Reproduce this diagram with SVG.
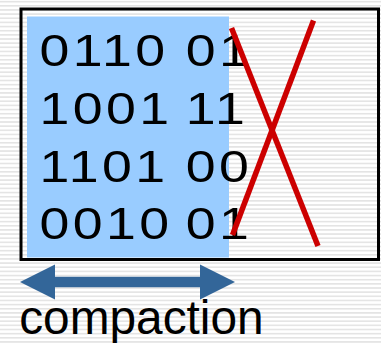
<svg xmlns="http://www.w3.org/2000/svg" width="381" height="343" viewBox="0 0 381 343">
  <defs>
    <!-- ruled background -->
    <pattern id="rules" x="0" y="0" width="381" height="4.15" patternUnits="userSpaceOnUse">
      <rect x="0" y="0" width="381" height="4.15" fill="#ffffff"/>
      <rect x="0" y="0.9" width="381" height="1.5" fill="#e2e2e2"/>
    </pattern>
    <style>
      .bits { font-family: "Liberation Sans", Arial, sans-serif; font-size: 44px; fill: #000000; letter-spacing: 2.8px; }
      .label { font-family: "Liberation Sans", Arial, sans-serif; font-size: 47.8px; fill: #000000; }
      .cross { stroke: #cc0000; stroke-width: 5.5; fill: none; stroke-linecap: butt; }
    </style>
  </defs>

  <rect x="0" y="0" width="381" height="343" fill="url(#rules)"/>

  <!-- register: shaded kept part and frame -->
  <g id="register">
    <rect x="27" y="16.5" width="202" height="241" fill="#99ccff"/>
    <rect x="21" y="9" width="357.5" height="250.5" fill="none" stroke="#000000" stroke-width="3"/>
  </g>

  <!-- bit rows, drawn slightly widened -->
  <g id="bits" transform="scale(1.22 1)">
    <text class="bits" y="66"><tspan x="32.3">0110</tspan><tspan x="152.2">01</tspan></text>
    <text class="bits" y="124"><tspan x="32.3">1001</tspan><tspan x="152.2">11</tspan></text>
    <text class="bits" y="181.7"><tspan x="32.3">1101</tspan><tspan x="152.2">00</tspan></text>
    <text class="bits" y="239.3"><tspan x="32.3">0010</tspan><tspan x="152.2">01</tspan></text>
  </g>

  <!-- discarded columns -->
  <g id="cross">
    <line class="cross" x1="231.5" y1="28" x2="318" y2="246"/>
    <line class="cross" x1="313.5" y1="20.5" x2="232.5" y2="235"/>
  </g>

  <!-- compaction arrow -->
  <g id="arrow">
    <polygon fill="#336699" points="20,282 55,264.5 55,276.7 200,276.7 200,264.5 235,282 200,299.5 200,287.3 55,287.3 55,299.5"/>
  </g>

  <g id="caption">
    <text class="label" x="19.2" y="333.5">compaction</text>
  </g>
</svg>
